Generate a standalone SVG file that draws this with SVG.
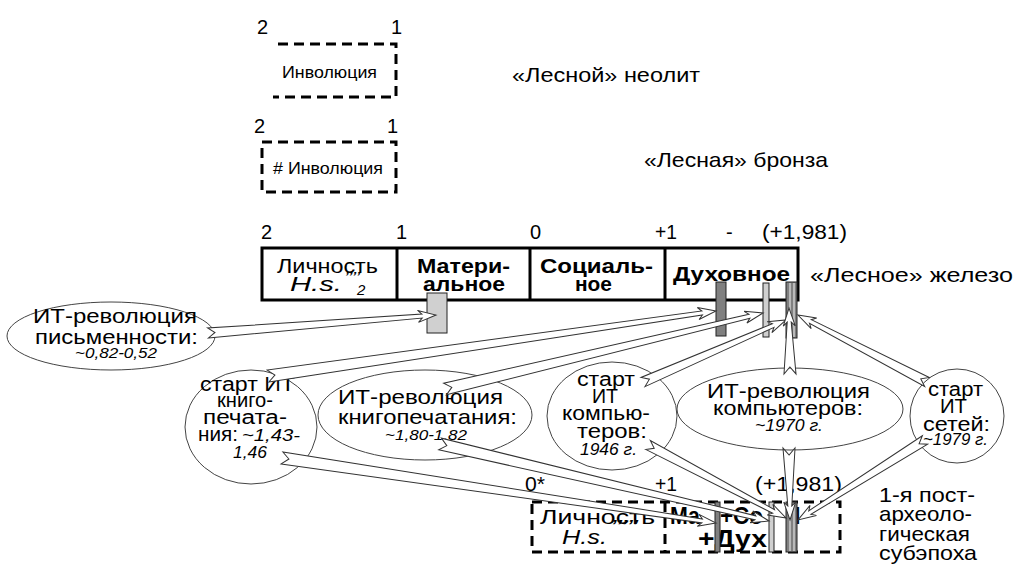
<svg xmlns="http://www.w3.org/2000/svg" width="1016" height="565" viewBox="0 0 1016 565">
<style>
.t{font-family:"Liberation Sans",Arial,sans-serif;fill:#000}
.b{font-weight:bold}
.i{font-style:italic}
.dash{fill:none;stroke:#000;stroke-width:3;stroke-dasharray:10 6}
.ell{fill:#fff;stroke:#444;stroke-width:1}
.arr{fill:#fff;stroke:#333;stroke-width:1;stroke-linejoin:miter}
.bar{fill:#fff;stroke:#000;stroke-width:3}
.lg{fill:#d0d0d0;stroke:#222;stroke-width:1}
.dg{fill:#808080;stroke:#222;stroke-width:1}
</style>
<rect width="1016" height="565" fill="#fff"/>

<g id="neolith">
<text class="t" x="257" y="34" font-size="20">2</text>
<text class="t" x="391" y="34" font-size="20">1</text>
<path class="dash" d="M278,44 H396 V97 H273"/>
<text class="t" x="282" y="78" font-size="17" textLength="95" lengthAdjust="spacingAndGlyphs">Инволюция</text>
<text class="t" x="512" y="82" font-size="21" textLength="188" lengthAdjust="spacingAndGlyphs">«Лесной» неолит</text>
</g>

<g id="bronze">
<text class="t" x="254" y="133" font-size="20">2</text>
<text class="t" x="387" y="133" font-size="20">1</text>
<rect class="dash" x="262" y="142" width="134" height="50"/>
<text class="t" x="273" y="174" font-size="17" textLength="110" lengthAdjust="spacingAndGlyphs"># Инволюция</text>
<text class="t" x="644" y="167" font-size="21" textLength="184" lengthAdjust="spacingAndGlyphs">«Лесная» бронза</text>
</g>

<g id="iron">
<text class="t" x="261" y="239" font-size="20">2</text>
<text class="t" x="396" y="239" font-size="20">1</text>
<text class="t" x="530" y="239" font-size="20">0</text>
<text class="t" x="655" y="239" font-size="20" textLength="22" lengthAdjust="spacingAndGlyphs">+1</text>
<text class="t" x="726" y="239" font-size="20">-</text>
<text class="t" x="762" y="239" font-size="20" textLength="85" lengthAdjust="spacingAndGlyphs">(+1,981)</text>
<rect class="bar" x="262" y="248" width="536" height="52"/>
<line x1="397" y1="248" x2="397" y2="300" stroke="#000" stroke-width="3"/>
<line x1="530" y1="248" x2="530" y2="300" stroke="#000" stroke-width="3"/>
<line x1="665" y1="248" x2="665" y2="300" stroke="#000" stroke-width="3"/>
<text class="t" x="277" y="273" font-size="21" textLength="101" lengthAdjust="spacingAndGlyphs">Личность</text>
<text class="t i" x="290" y="291" font-size="21" textLength="52" lengthAdjust="spacingAndGlyphs">H.s.</text>
<text class="t i" x="344" y="284" font-size="16" textLength="16" lengthAdjust="spacingAndGlyphs">’’’’</text>
<text class="t i" x="357" y="295" font-size="15">2</text>
<text class="t b" x="417" y="273" font-size="21" textLength="93" lengthAdjust="spacingAndGlyphs">Матери-</text>
<text class="t b" x="423" y="291" font-size="21" textLength="82" lengthAdjust="spacingAndGlyphs">альное</text>
<text class="t b" x="540" y="273" font-size="21" textLength="113" lengthAdjust="spacingAndGlyphs">Социаль-</text>
<text class="t b" x="575" y="291" font-size="21" textLength="37" lengthAdjust="spacingAndGlyphs">ное</text>
<text class="t b" x="673" y="281" font-size="21" textLength="117" lengthAdjust="spacingAndGlyphs">Духовное</text>
<text class="t" x="810" y="282" font-size="21" textLength="203" lengthAdjust="spacingAndGlyphs">«Лесное» железо</text>
<rect class="lg" x="427" y="293" width="20" height="40"/>
<rect class="dg" x="716" y="282" width="10" height="54"/>
<rect class="lg" x="763" y="283" width="6" height="54"/>
<rect class="dg" x="786" y="282" width="11" height="56"/>
<line x1="790" y1="283" x2="790" y2="337" stroke="#ccc" stroke-width="1.5"/>
<line x1="794" y1="283" x2="794" y2="337" stroke="#ccc" stroke-width="1.5"/>
</g>

<g id="e1">
<ellipse class="ell" cx="111" cy="336" rx="104" ry="34"/>
<text class="t" x="33" y="323" font-size="21" textLength="164" lengthAdjust="spacingAndGlyphs">ИТ-революция</text>
<text class="t" x="35" y="344" font-size="21" textLength="163" lengthAdjust="spacingAndGlyphs">письменности:</text>
<text class="t i" x="75" y="358" font-size="15" textLength="82" lengthAdjust="spacingAndGlyphs">~0,82-0,52</text>
</g>

<g id="e2">
<ellipse class="ell" cx="251" cy="427" rx="66" ry="57"/>
<text class="t" x="200" y="391" font-size="20" textLength="95" lengthAdjust="spacingAndGlyphs">старт ИТ</text>
<text class="t" x="217" y="407" font-size="20" textLength="56" lengthAdjust="spacingAndGlyphs">книго-</text>
<text class="t" x="203" y="424" font-size="20" textLength="84" lengthAdjust="spacingAndGlyphs">печата-</text>
<text class="t" x="198" y="441" font-size="20" textLength="40" lengthAdjust="spacingAndGlyphs">ния:</text>
<text class="t i" x="242" y="441" font-size="16" textLength="58" lengthAdjust="spacingAndGlyphs">~1,43-</text>
<text class="t i" x="233" y="458" font-size="16" textLength="34" lengthAdjust="spacingAndGlyphs">1,46</text>
</g>

<g id="e3">
<ellipse class="ell" cx="425" cy="415" rx="107" ry="45"/>
<text class="t" x="338" y="404" font-size="21" textLength="165" lengthAdjust="spacingAndGlyphs">ИТ-революция</text>
<text class="t" x="338" y="424" font-size="21" textLength="179" lengthAdjust="spacingAndGlyphs">книгопечатания:</text>
<text class="t i" x="385" y="440" font-size="15" textLength="82" lengthAdjust="spacingAndGlyphs">~1,80-1,82</text>
</g>

<g id="e4">
<ellipse class="ell" cx="612" cy="416" rx="65" ry="54"/>
<text class="t" x="577" y="386" font-size="20" textLength="58" lengthAdjust="spacingAndGlyphs">старт</text>
<text class="t" x="592" y="403" font-size="20" textLength="26" lengthAdjust="spacingAndGlyphs">ИТ</text>
<text class="t" x="562" y="420" font-size="20" textLength="88" lengthAdjust="spacingAndGlyphs">компью-</text>
<text class="t" x="577" y="438" font-size="20" textLength="70" lengthAdjust="spacingAndGlyphs">теров:</text>
<text class="t i" x="580" y="455" font-size="16" textLength="57" lengthAdjust="spacingAndGlyphs">1946 г.</text>
</g>

<g id="e5">
<ellipse class="ell" cx="790" cy="409" rx="113" ry="41"/>
<text class="t" x="707" y="398" font-size="21" textLength="163" lengthAdjust="spacingAndGlyphs">ИТ-революция</text>
<text class="t" x="713" y="415" font-size="21" textLength="150" lengthAdjust="spacingAndGlyphs">компьютеров:</text>
<text class="t i" x="755" y="431" font-size="16" textLength="68" lengthAdjust="spacingAndGlyphs">~1970 г.</text>
</g>

<g id="e6">
<ellipse class="ell" cx="957" cy="416" rx="47" ry="47"/>
<text class="t" x="928" y="396" font-size="20" textLength="55" lengthAdjust="spacingAndGlyphs">старт</text>
<text class="t" x="940" y="413" font-size="20" textLength="27" lengthAdjust="spacingAndGlyphs">ИТ</text>
<text class="t" x="923" y="431" font-size="20" textLength="67" lengthAdjust="spacingAndGlyphs">сетей:</text>
<text class="t i" x="923" y="445" font-size="16" textLength="65" lengthAdjust="spacingAndGlyphs">~1979 г.</text>
</g>

<g id="postarch">
<text class="t" x="525" y="491" font-size="20" textLength="20" lengthAdjust="spacingAndGlyphs">0*</text>
<text class="t" x="655" y="491" font-size="20" textLength="22" lengthAdjust="spacingAndGlyphs">+1</text>
<text class="t" x="722" y="491" font-size="20">-</text>
<text class="t" x="755" y="491" font-size="20" textLength="87" lengthAdjust="spacingAndGlyphs">(+1,981)</text>
<rect class="dash" x="532" y="502" width="308" height="50"/>
<line class="dash" x1="665" y1="502" x2="665" y2="552"/>
<text class="t" x="540" y="524" font-size="21" textLength="115" lengthAdjust="spacingAndGlyphs">Личность</text>
<text class="t i" x="562" y="544" font-size="21" textLength="45" lengthAdjust="spacingAndGlyphs">H.s.</text>
<text class="t i" x="610" y="533" font-size="18" textLength="28" lengthAdjust="spacingAndGlyphs">’’’’’</text>
<text class="t b" x="670" y="524" font-size="23" textLength="30" lengthAdjust="spacingAndGlyphs">Ма</text>
<text class="t b" x="720" y="524" font-size="23" textLength="43" lengthAdjust="spacingAndGlyphs">+Со</text>
<text class="t b" x="787" y="524" font-size="23" textLength="13" lengthAdjust="spacingAndGlyphs">М</text>
<text class="t b" x="698" y="547" font-size="23" textLength="69" lengthAdjust="spacingAndGlyphs">+Дух</text>
<rect class="dg" x="715" y="502" width="5" height="50"/>
<rect class="lg" x="769" y="502" width="5" height="50"/>
<rect class="dg" x="786" y="502" width="11" height="50"/>
<line x1="790" y1="503" x2="790" y2="551" stroke="#ccc" stroke-width="1.5"/>
<line x1="794" y1="503" x2="794" y2="551" stroke="#ccc" stroke-width="1.5"/>
<text class="t" x="879" y="502" font-size="21" textLength="96" lengthAdjust="spacingAndGlyphs">1-я пост-</text>
<text class="t" x="879" y="521" font-size="21" textLength="93" lengthAdjust="spacingAndGlyphs">археоло-</text>
<text class="t" x="879" y="541" font-size="21" textLength="91" lengthAdjust="spacingAndGlyphs">гическая</text>
<text class="t" x="879" y="560" font-size="21" textLength="98" lengthAdjust="spacingAndGlyphs">субэпоха</text>
</g>

<g id="connectors">
<polygon class="arr" transform="translate(208,333) rotate(-4.51)" points="0,5 214.7,2 210.7,6 228.7,0 210.7,-6 214.7,-2 0,-5 7,0"/>
<polygon class="arr" transform="translate(268,376) rotate(-8.26)" points="0,6 438.7,2 434.7,6 452.7,0 434.7,-6 438.7,-2 0,-6 7,0"/>
<polygon class="arr" transform="translate(445,389) rotate(-13.44)" points="0,6 313,2 309,6 327,0 309,-6 313,-2 0,-6 7,0"/>
<polygon class="arr" transform="translate(643,382) rotate(-23.44)" points="0,5 141.9,2 137.9,6 155.9,0 137.9,-6 141.9,-2 0,-5 7,0"/>
<polygon class="arr" transform="translate(790,374) rotate(-90.87)" points="0,6 52,2 48,6 66,0 48,-6 52,-2 0,-6 7,0"/>
<polygon class="arr" transform="translate(927,382) rotate(-152.56)" points="0,5 131.4,2 127.4,6 145.4,0 127.4,-6 131.4,-2 0,-5 7,0"/>
<polygon class="arr" transform="translate(282,458) rotate(8.52)" points="0,6 424.8,2 420.8,6 438.8,0 420.8,-6 424.8,-2 0,-6 7,0"/>
<polygon class="arr" transform="translate(440,444) rotate(13.17)" points="0,6 323.9,2 319.9,6 337.9,0 319.9,-6 323.9,-2 0,-6 7,0"/>
<polygon class="arr" transform="translate(648,445) rotate(27.88)" points="0,5 142.1,2 138.1,6 156.1,0 138.1,-6 142.1,-2 0,-5 7,0"/>
<polygon class="arr" transform="translate(789,448) rotate(89.2)" points="0,6 58,2 54,6 72,0 54,-6 58,-2 0,-6 7,0"/>
<polygon class="arr" transform="translate(925,440) rotate(147.8)" points="0,5 136.1,2 132.1,6 150.1,0 132.1,-6 136.1,-2 0,-5 7,0"/>
</g>
</svg>
